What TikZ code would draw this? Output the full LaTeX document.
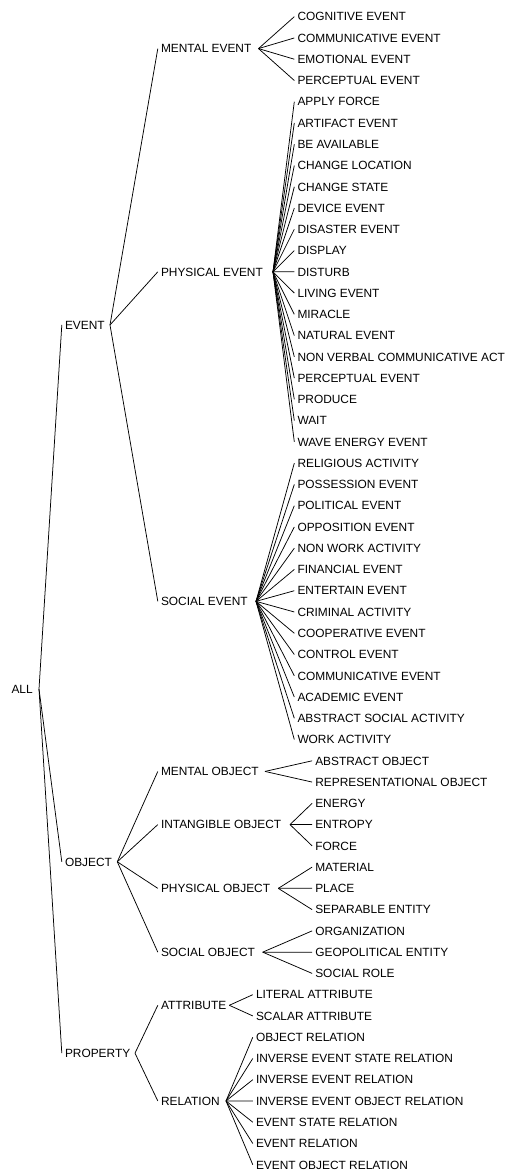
\documentclass[tikz,border=0pt]{standalone}
\usepackage{fontspec}
\setmainfont{Liberation Sans}
\begin{document}
\begin{tikzpicture}[x=1pt,y=-1pt,
  lbl/.style={anchor=west, inner sep=0pt, outer sep=0pt, text height=8.5pt, text depth=0pt, font=\fontsize{11.9}{13}\selectfont},
  edge/.style={line width=0.75pt, black}]
\useasboundingbox (0,0) rectangle (506,1174);
% root and level 1
\node[lbl] (all) at (11.5, 689.05) {ALL};
\coordinate (allj) at (39, 689.05);
\node[lbl] (event) at (65, 324.97) {EVENT};
\coordinate (eventj) at (110, 324.97);
\node[lbl] (object) at (65, 861.79) {OBJECT};
\coordinate (objectj) at (117.3, 861.79);
\node[lbl] (property) at (65, 1053.13) {PROPERTY};
\coordinate (propertyj) at (135, 1053.13);
\foreach \c in {event,object,property}{\draw[edge] (allj) -- ([xshift=-3.2pt]\c.west);}
% level 2
\node[lbl] (mentalevent) at (161, 48.59) {MENTAL EVENT};
\coordinate (mentaleventj) at (258.5, 48.59);
\node[lbl] (physicalevent) at (161, 271.82) {PHYSICAL EVENT};
\coordinate (physicaleventj) at (273, 271.82);
\node[lbl] (socialevent) at (161, 601.35) {SOCIAL EVENT};
\coordinate (socialeventj) at (256, 601.35);
\foreach \c in {mentalevent,physicalevent,socialevent}{\draw[edge] (eventj) -- ([xshift=-3.2pt]\c.west);}
\node[lbl] (mentalobject) at (161, 771.43) {MENTAL OBJECT};
\coordinate (mentalobjectj) at (265, 771.43);
\node[lbl] (intangibleobject) at (161, 824.58) {INTANGIBLE OBJECT};
\coordinate (intangibleobjectj) at (290, 824.58);
\node[lbl] (physicalobject) at (161, 888.36) {PHYSICAL OBJECT};
\coordinate (physicalobjectj) at (278.3, 888.36);
\node[lbl] (socialobject) at (161, 952.14) {SOCIAL OBJECT};
\coordinate (socialobjectj) at (262.7, 952.14);
\foreach \c in {mentalobject,intangibleobject,physicalobject,socialobject}{\draw[edge] (objectj) -- ([xshift=-3.2pt]\c.west);}
\node[lbl] (attribute) at (161, 1005.29) {ATTRIBUTE};
\coordinate (attributej) at (229.3, 1005.29);
\node[lbl] (relation) at (161, 1100.96) {RELATION};
\coordinate (relationj) at (226, 1100.96);
\foreach \c in {attribute,relation}{\draw[edge] (propertyj) -- ([xshift=-3.2pt]\c.west);}
% leaves
\foreach \t [count=\k from 0] in {COGNITIVE EVENT,COMMUNICATIVE EVENT,EMOTIONAL EVENT,PERCEPTUAL EVENT}{
  \node[lbl] (me\k) at (297.5, {16.7+21.26*\k}) {\t};
  \draw[edge] (mentaleventj) -- ([xshift=-3.2pt]me\k.west);}
\foreach \t [count=\k from 0] in {APPLY FORCE,ARTIFACT EVENT,BE AVAILABLE,CHANGE LOCATION,CHANGE STATE,DEVICE EVENT,DISASTER EVENT,DISPLAY,DISTURB,LIVING EVENT,MIRACLE,NATURAL EVENT,NON VERBAL COMMUNICATIVE ACT,PERCEPTUAL EVENT,PRODUCE,WAIT,WAVE ENERGY EVENT}{
  \node[lbl] (pe\k) at (297.5, {16.7+21.26*(\k+4)}) {\t};
  \draw[edge] (physicaleventj) -- ([xshift=-3.2pt]pe\k.west);}
\foreach \t [count=\k from 0] in {RELIGIOUS ACTIVITY,POSSESSION EVENT,POLITICAL EVENT,OPPOSITION EVENT,NON WORK ACTIVITY,FINANCIAL EVENT,ENTERTAIN EVENT,CRIMINAL ACTIVITY,COOPERATIVE EVENT,CONTROL EVENT,COMMUNICATIVE EVENT,ACADEMIC EVENT,ABSTRACT SOCIAL ACTIVITY,WORK ACTIVITY}{
  \node[lbl] (se\k) at (297.5, {16.7+21.26*(\k+21)}) {\t};
  \draw[edge] (socialeventj) -- ([xshift=-3.2pt]se\k.west);}
\foreach \t [count=\k from 0] in {ABSTRACT OBJECT,REPRESENTATIONAL OBJECT}{
  \node[lbl] (mo\k) at (315.3, {16.7+21.26*(\k+35)}) {\t};
  \draw[edge] (mentalobjectj) -- ([xshift=-3.2pt]mo\k.west);}
\foreach \t [count=\k from 0] in {ENERGY,ENTROPY,FORCE}{
  \node[lbl] (io\k) at (315.3, {16.7+21.26*(\k+37)}) {\t};
  \draw[edge] (intangibleobjectj) -- ([xshift=-3.2pt]io\k.west);}
\foreach \t [count=\k from 0] in {MATERIAL,PLACE,SEPARABLE ENTITY}{
  \node[lbl] (po\k) at (315.3, {16.7+21.26*(\k+40)}) {\t};
  \draw[edge] (physicalobjectj) -- ([xshift=-3.2pt]po\k.west);}
\foreach \t [count=\k from 0] in {ORGANIZATION,GEOPOLITICAL ENTITY,SOCIAL ROLE}{
  \node[lbl] (so\k) at (315.3, {16.7+21.26*(\k+43)}) {\t};
  \draw[edge] (socialobjectj) -- ([xshift=-3.2pt]so\k.west);}
\foreach \t [count=\k from 0] in {LITERAL ATTRIBUTE,SCALAR ATTRIBUTE}{
  \node[lbl] (at\k) at (256, {16.7+21.26*(\k+46)}) {\t};
  \draw[edge] (attributej) -- ([xshift=-3.2pt]at\k.west);}
\foreach \t [count=\k from 0] in {OBJECT RELATION,INVERSE EVENT STATE RELATION,INVERSE EVENT RELATION,INVERSE EVENT OBJECT RELATION,EVENT STATE RELATION,EVENT RELATION,EVENT OBJECT RELATION}{
  \node[lbl] (re\k) at (256, {16.7+21.26*(\k+48)}) {\t};
  \draw[edge] (relationj) -- ([xshift=-3.2pt]re\k.west);}
\end{tikzpicture}
\end{document}
